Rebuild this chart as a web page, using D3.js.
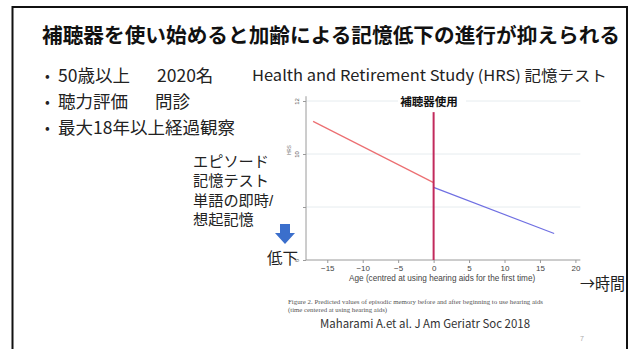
<!DOCTYPE html>
<html>
<head>
<meta charset="utf-8">
<script src="https://cdn.jsdelivr.net/npm/d3@7"></script>
<style>
  html, body { margin: 0; padding: 0; background: #fff; }
  svg { display: block; }
</style>
</head>
<body>
<svg id="slide" width="630" height="349"></svg>
<script>
// Episodic memory predicted values, before and after starting hearing aids
const xTicks = [-15, -10, -5, 0, 5, 10, 15, 20];
const yTicks = [6, 8, 10, 12];
const yTickLabels = ["6", "", "10", "12"];
const beforeAid = [{ x: -17, y: 11.23 }, { x: 0, y: 8.92 }];
const afterAid = [{ x: 0, y: 8.74 }, { x: 17, y: 7.0 }];
const aidStart = { x: 0, yTop: 11.58, yBottom: 6 };

const bullets = [["50歳以上", "2020名"], ["聴力評価", "問診"], ["最大18年以上経過観察", ""]];
const noteLines = ["エピソード", "記憶テスト", "単語の即時/", "想起記憶"];

const JP = "'Noto Sans CJK JP', 'Noto Sans', sans-serif";
// compact line box for the stacked side note (glyphs still come from the CJK font)
const JP_TIGHT = "'Liberation Sans', 'Noto Sans CJK JP', sans-serif";
const svg = d3.select("#slide");

// slide frame
svg.append("rect").attr("x", 12.5).attr("y", 7).attr("width", 614.5).attr("height", 350)
  .attr("fill", "#fff").attr("stroke", "#111").attr("stroke-width", 2);

// title
svg.append("text").attr("x", 42).attr("y", 43)
  .attr("font-family", JP).attr("font-weight", "bold").attr("font-size", 20.5)
  .attr("textLength", 578).attr("lengthAdjust", "spacingAndGlyphs")
  .attr("fill", "#111")
  .text("補聴器を使い始めると加齢による記憶低下の進行が抑えられる");

// bullet list
const bl = svg.selectAll("g.bullet").data(bullets).join("g")
  .attr("class", "bullet")
  .attr("transform", (d, i) => `translate(0,${82 + i * 26})`)
  .attr("font-family", JP).attr("fill", "#222");
bl.append("text").attr("x", 45).attr("y", -1).attr("font-size", 14).text("•");
bl.append("text").attr("x", 58).attr("font-size", 17.5).text(d => d[0]);
bl.append("text").attr("x", (d, i) => i === 0 ? 157 : 155).attr("font-size", 17.5).text(d => d[1]);

svg.append("text").attr("x", 252).attr("y", 81)
  .attr("font-family", JP).attr("font-size", 15)
  .attr("textLength", 355).attr("lengthAdjust", "spacingAndGlyphs")
  .attr("fill", "#222")
  .text("Health and Retirement Study (HRS) 記憶テスト");

// scales
const x = d3.scaleLinear().domain([-18, 21]).range([306, 582.5]);
const y = d3.scaleLinear().domain([6, 12]).range([260, 101]);

const plot = svg.append("g");

// gridlines
plot.selectAll("line.grid").data(yTicks.filter(v => v > 6)).join("line")
  .attr("class", "grid")
  .attr("x1", x(-18)).attr("x2", x(20.7))
  .attr("y1", d => y(d)).attr("y2", d => y(d))
  .attr("stroke", "#e6ecef").attr("stroke-width", 1);

// axes
const xAxis = d3.axisBottom(x).tickValues(xTicks).tickSize(3).tickPadding(2);
const gx = plot.append("g").attr("transform", `translate(0,${y(6)})`).call(xAxis);
gx.select(".domain").attr("d", `M${x(-18)},0H${x(20.7)}`).attr("stroke", "#9a9a9a");
gx.selectAll(".tick line").attr("stroke", "#9a9a9a");
gx.selectAll(".tick text").attr("font-family", "'Liberation Sans', Arial, sans-serif")
  .attr("font-size", 8).attr("fill", "#444");

const yAxis = d3.axisLeft(y).tickValues(yTicks).tickSize(3).tickFormat((d, i) => yTickLabels[i]);
const gy = plot.append("g").attr("transform", `translate(${x(-18)},0)`).call(yAxis);
gy.select(".domain").attr("d", `M0,${y(12.18)}V${y(6)}`).attr("stroke", "#9a9a9a");
gy.selectAll(".tick line").attr("stroke", "#9a9a9a");
gy.selectAll(".tick text")
  .attr("font-family", "'Liberation Sans', Arial, sans-serif")
  .attr("font-size", 6).attr("fill", "#555")
  .attr("x", null).attr("dy", null)
  .attr("text-anchor", "middle")
  .attr("transform", "translate(-7,0) rotate(-90)");

// small y title
plot.append("text").attr("transform", `translate(291,${y(10.15)}) rotate(-90)`)
  .attr("font-family", "'Liberation Sans', Arial, sans-serif").attr("font-size", 4.5)
  .attr("fill", "#777").attr("text-anchor", "middle").text("HRS");

// x title
plot.append("text").attr("x", x(1.2)).attr("y", 281)
  .attr("font-family", "'Liberation Sans', Arial, sans-serif").attr("font-size", 8.2)
  .attr("fill", "#444").attr("text-anchor", "middle")
  .text("Age (centred at using hearing aids for the first time)");

// fitted lines
const line = d3.line().x(d => x(d.x)).y(d => y(d.y));
plot.append("path").datum(beforeAid).attr("d", line)
  .attr("fill", "none").attr("stroke", "#ec6f72").attr("stroke-width", 1.2);
plot.append("path").datum(afterAid).attr("d", line)
  .attr("fill", "none").attr("stroke", "#6f6fe2").attr("stroke-width", 1.2);

// hearing-aid start marker
plot.append("line")
  .attr("x1", x(aidStart.x)).attr("x2", x(aidStart.x))
  .attr("y1", y(aidStart.yTop)).attr("y2", y(aidStart.yBottom))
  .attr("stroke", "#c22a5c").attr("stroke-width", 2);

// marker label on white box
plot.append("rect").attr("x", 398).attr("y", 93).attr("width", 68).attr("height", 16).attr("fill", "#fff");
plot.append("text").attr("x", 429).attr("y", 106)
  .attr("font-family", JP).attr("font-weight", "bold").attr("font-size", 11.5)
  .attr("fill", "#111").attr("text-anchor", "middle").text("補聴器使用");

// side note box
const note = svg.append("g");
note.append("rect").attr("x", 188).attr("y", 190).attr("width", 113).attr("height", 30).attr("fill", "#fff");
note.selectAll("text.note").data(noteLines).join("text")
  .attr("class", "note")
  .attr("font-family", JP_TIGHT).attr("font-size", 15.2).attr("fill", "#222")
  .attr("x", 193).attr("y", (d, i) => 167 + i * 19.3)
  .text(d => d);

// down arrow
note.append("path")
  .attr("d", "M280,224 H290 V233 H295 L285,244 L275,233 H280 Z")
  .attr("fill", "#3b6fcc");
note.append("text").attr("x", 267).attr("y", 264)
  .attr("font-family", JP).attr("font-size", 15.5).attr("fill", "#222").text("低下");

// time arrow label
svg.append("text").attr("x", 580).attr("y", 290)
  .attr("font-family", JP).attr("font-size", 16.5).attr("fill", "#222")
  .attr("textLength", 45).attr("lengthAdjust", "spacingAndGlyphs")
  .text("→時間");

// figure caption
const cap = svg.append("g").attr("font-family", "'Liberation Serif', 'DejaVu Serif', serif")
  .attr("font-size", 6.8).attr("fill", "#555");
cap.append("text").attr("x", 288).attr("y", 304)
  .attr("textLength", 255).attr("lengthAdjust", "spacingAndGlyphs")
  .text("Figure 2. Predicted values of episodic memory before and after beginning to use hearing aids");
cap.append("text").attr("x", 288).attr("y", 312).text("(time centered at using hearing aids)");

svg.append("text").attr("x", 320).attr("y", 328)
  .attr("font-family", JP).attr("font-size", 11.5).attr("fill", "#333")
  .attr("textLength", 210).attr("lengthAdjust", "spacingAndGlyphs")
  .text("Maharami A.et al. J Am Geriatr Soc  2018");

svg.append("text").attr("x", 580).attr("y", 341)
  .attr("font-family", "'Liberation Sans', Arial, sans-serif").attr("font-size", 7).attr("fill", "#aaa")
  .text("7");
</script>
</body>
</html>
